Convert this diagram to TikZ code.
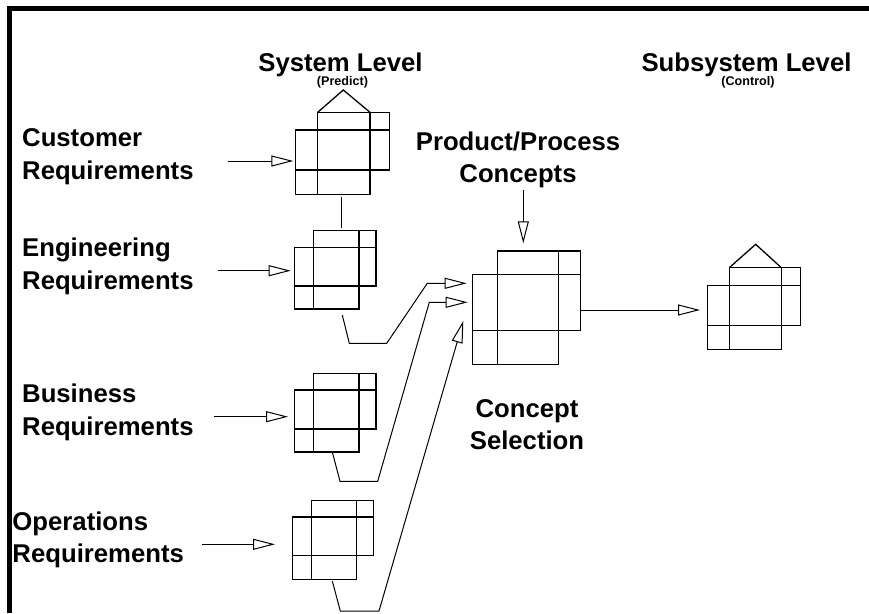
\documentclass[tikz,border=0pt]{standalone}
\usepackage{fontspec}
\setmainfont{Liberation Sans}
\usetikzlibrary{arrows.meta}

% A quality-function-deployment block: columns #2..#5, rows #6..#9
\newcommand\qfdblock[9]{%
  \draw[blk] (#3,#6)--(#5,#6) (#2,#7)--(#5,#7) (#2,#8)--(#5,#8) (#2,#9)--(#4,#9)
    (#2,#7)--(#2,#9) (#3,#6)--(#3,#9) (#4,#6)--(#4,#9) (#5,#6)--(#5,#8);
  \coordinate (#1-tl) at (#3,#6);
  \coordinate (#1-tr) at (#4,#6);
}

\tikzset{
  blk/.style={line width=1.3pt, line cap=rect},
  conn/.style={line width=1pt},
  arr/.style={line width=1pt, -{Triangle[open, length=22pt, width=11pt, line width=1pt]}},
  big/.style={font=\fontsize{25.7}{29}\selectfont\bfseries, inner sep=0pt},
  small/.style={font=\fontsize{12.6}{14}\selectfont\bfseries, inner sep=0pt},
}

\begin{document}
\begin{tikzpicture}[x=1pt, y=-1pt]
  \useasboundingbox (0,0) rectangle (869,613);

  % frame
  \draw[line width=5pt] (9.5,613) -- (9.5,8) -- (869,8);

  % headings
  \node[big, anchor=base] (sys) at (340.5,71) {System Level};
  \node[small, anchor=base] (pred) at (342.5,85.5) {(Predict)};
  \node[big, anchor=base] (sub) at (746.5,71) {Subsystem Level};
  \node[small, anchor=base] (ctrl) at (748,85.5) {(Control)};

  % input labels
  \node[big, anchor=base west] (cust1) at (22,146.7) {Customer};
  \node[big, anchor=base west] (cust2) at (22,179.4) {Requirements};
  \node[big, anchor=base west] (eng1) at (22,256.4) {Engineering};
  \node[big, anchor=base west] (eng2) at (22,289.1) {Requirements};
  \node[big, anchor=base west] (bus1) at (22,402.4) {Business};
  \node[big, anchor=base west] (bus2) at (22,435.1) {Requirements};
  \node[big, anchor=base west] (ops1) at (12.3,530) {Operations};
  \node[big, anchor=base west] (ops2) at (12.3,562.7) {Requirements};
  \node[big, anchor=base] (prod1) at (518,150) {Product/Process};
  \node[big, anchor=base] (prod2) at (518,182) {Concepts};
  \node[big, anchor=base] (sel1) at (527,417) {Concept};
  \node[big, anchor=base] (sel2) at (527,449) {Selection};

  % blocks
  \qfdblock{b1}{295.7}{317.7}{370}{389.3}{112.3}{130}{170}{194.3}
  \draw[blk, line cap=butt] (b1-tl) -- (343.3,90) -- (b1-tr);
  \qfdblock{b2}{294.3}{313.7}{359}{376}{230.7}{247.3}{286}{309}
  \qfdblock{b3}{294.7}{313.7}{359}{376}{373.3}{390}{429}{452}
  \qfdblock{b4}{292.3}{311.5}{356.7}{373.3}{500.3}{517}{555.7}{579.3}
  \qfdblock{bc}{472.7}{497.7}{558.3}{580.3}{251}{274.7}{330.3}{364.3}
  \qfdblock{bs}{707.3}{729.3}{781.3}{800.7}{267.7}{285.3}{325.3}{349.3}
  \draw[blk, line cap=butt] (bs-tl) -- (755.7,244.3) -- (bs-tr);

  % connector end points
  \coordinate (t1) at (293.3,161);
  \coordinate (t2) at (290.7,270.7);
  \coordinate (t3) at (288,416.7);
  \coordinate (t4) at (275,544.3);
  \coordinate (tp) at (523.3,243.3);
  \coordinate (ts) at (700,310);
  \coordinate (tc1) at (466.7,283.3);
  \coordinate (tc2) at (467.7,302.3);
  \coordinate (tc3) at (463.3,321);

  % inputs
  \draw[arr] (228,161) -- (t1);
  \draw[arr] (218,270.7) -- (t2);
  \draw[arr] (214,416.7) -- (t3);
  \draw[arr] (201.7,544.3) -- (t4);
  \draw[arr] (523.3,190) -- (tp);
  \draw[arr] (580.3,310) -- (ts);

  % system-level links
  \draw[conn] (341.7,196.7) -- (341.7,228.3);
  \draw[arr] (342.3,315) -- (349.3,343.3) -- (386.7,343.3) -- (427.3,283.3) -- (tc1);
  \draw[arr] (332.3,452) -- (340,481.3) -- (377.7,481.3) -- (429.3,302.3) -- (tc2);
  \draw[arr] (332.3,581) -- (340.3,611) -- (379,611) -- (tc3);
\end{tikzpicture}
\end{document}
